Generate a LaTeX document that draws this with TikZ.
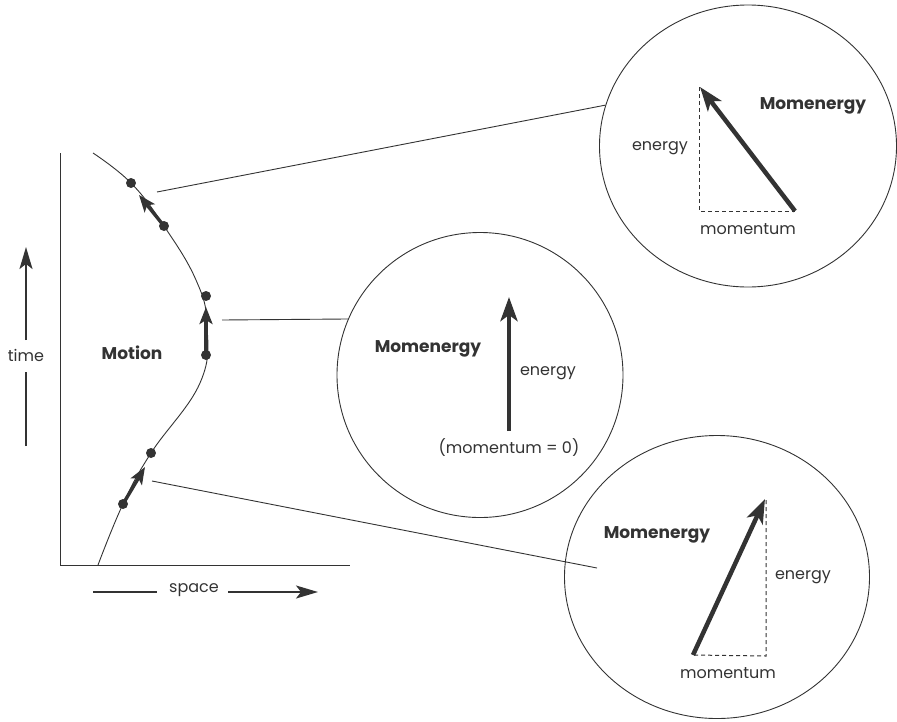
\documentclass[tikz,border=0pt]{standalone}
\usepackage{fontspec}
\setmainfont{Poppins}
\usetikzlibrary{arrows.meta,shapes.geometric}
\definecolor{ink}{HTML}{333333}
\begin{document}
\begin{tikzpicture}[x=1pt,y=-1pt,
  thinline/.style={draw=ink,line width=0.9pt},
  bigvec/.style={draw=ink,line width=4.5pt,-{Stealth[length=24pt,width=17pt,inset=6pt]}},
  smallvec/.style={draw=ink,line width=3.4pt,-{Stealth[length=17pt,width=13pt,inset=4pt]}},
  axisline/.style={draw=ink,line width=1.8pt},
  axisarrow/.style={axisline,-{Stealth[length=22pt,width=13pt,inset=5pt]}},
  dashedline/.style={draw=ink,line width=1pt,dash pattern=on 4pt off 3pt},
  dot/.style={circle,fill=ink,inner sep=0pt,minimum size=10pt},
  lbl/.style={text=ink,font=\fontsize{16}{18}\selectfont,inner sep=0pt},
  blbl/.style={text=ink,font=\fontsize{17}{19}\selectfont\bfseries,inner sep=0pt},
  bubble/.style={draw=ink,line width=0.9pt,ellipse,inner sep=0pt}
]
\useasboundingbox (0,0) rectangle (897,721);

% axes
\coordinate (origin) at (60,565);
\coordinate (ytop) at (60,153);
\coordinate (xend) at (350,565);
\draw[thinline] (ytop) -- (origin) -- (xend);

% time arrow
\node[lbl] (time) at (26,355) {time};
\coordinate (tbot) at (26,446);
\coordinate (tlow) at (26,372);
\coordinate (thigh) at (26,340);
\coordinate (ttip) at (26,247);
\draw[axisline] (tbot) -- (tlow);
\draw[axisarrow] (thigh) -- (ttip);

% space arrow
\node[lbl] (space) at (194,590) {space};
\coordinate (sstart) at (93,592);
\coordinate (sleft) at (157,592);
\coordinate (sright) at (228,592);
\coordinate (stip) at (318,592);
\draw[axisline] (sstart) -- (sleft);
\draw[axisarrow] (sright) -- (stip);

\node[blbl] (motion) at (132,353) {Motion};

% world line
\draw[thinline] plot[smooth,tension=0.7] coordinates {
 (93,153) (131,183) (164,226) (196,280) (207,325) (200,383)
 (151,453) (123,504) (98,565)};

\node[dot] (d1) at (131,183) {};
\node[dot] (d2) at (164,226) {};
\node[dot] (d3) at (206,296) {};
\node[dot] (d4) at (206,355) {};
\node[dot] (d5) at (151,453) {};
\node[dot] (d6) at (123,504) {};
\coordinate (a1) at (139,195);
\coordinate (a2) at (206,307);
\coordinate (a3) at (145,467);
\draw[smallvec] (d2.center) -- (a1);
\draw[smallvec] (d4.center) -- (a2);
\draw[smallvec] (d6.center) -- (a3);

% bubbles
\node[bubble,minimum width=297pt,minimum height=282pt] (ctop) at (748,146) {};
\node[bubble,minimum width=286pt,minimum height=285pt] (cmid) at (480,375) {};
\node[bubble,minimum width=305pt,minimum height=283pt] (cbot) at (717,577) {};

% connectors
\coordinate (s1) at (157,192);
\coordinate (s2) at (222,320);
\coordinate (s3) at (152,481);
\coordinate (e3) at (597,568);
\draw[thinline] (s1) -- (ctop.164);
\draw[thinline] (s2) -- (cmid.157);
\draw[thinline] (s3) -- (e3);

% top bubble content
\coordinate (tb) at (795,211);
\coordinate (tt) at (700,87);
\coordinate (tc) at (699,211);
\draw[dashedline] (699,87) -- (tc) -- (tb);
\draw[bigvec] (tb) -- (tt);
\node[lbl] (tenergy) at (660,148) {energy};
\node[blbl] (tmom) at (813,106) {Momenergy};
\node[lbl] (tmomentum) at (748,229) {momentum};

% middle bubble content
\coordinate (mb) at (509,431);
\coordinate (mt) at (509,297);
\draw[bigvec] (mb) -- (mt);
\node[blbl] (mmom) at (428,349) {Momenergy};
\node[lbl] (menergy) at (548,373) {energy};
\node[lbl] (mzero) at (509,448) {(momentum = 0)};

% bottom bubble content
\coordinate (bb) at (693,655);
\coordinate (bt) at (765,499);
\coordinate (bc) at (766,656);
\draw[dashedline] (766,500) -- (bc) -- (bb);
\draw[bigvec] (bb) -- (bt);
\node[blbl] (bmom) at (657,535) {Momenergy};
\node[lbl] (benergy) at (803,577) {energy};
\node[lbl] (bmomentum) at (728,673) {momentum};
\end{tikzpicture}
\end{document}
